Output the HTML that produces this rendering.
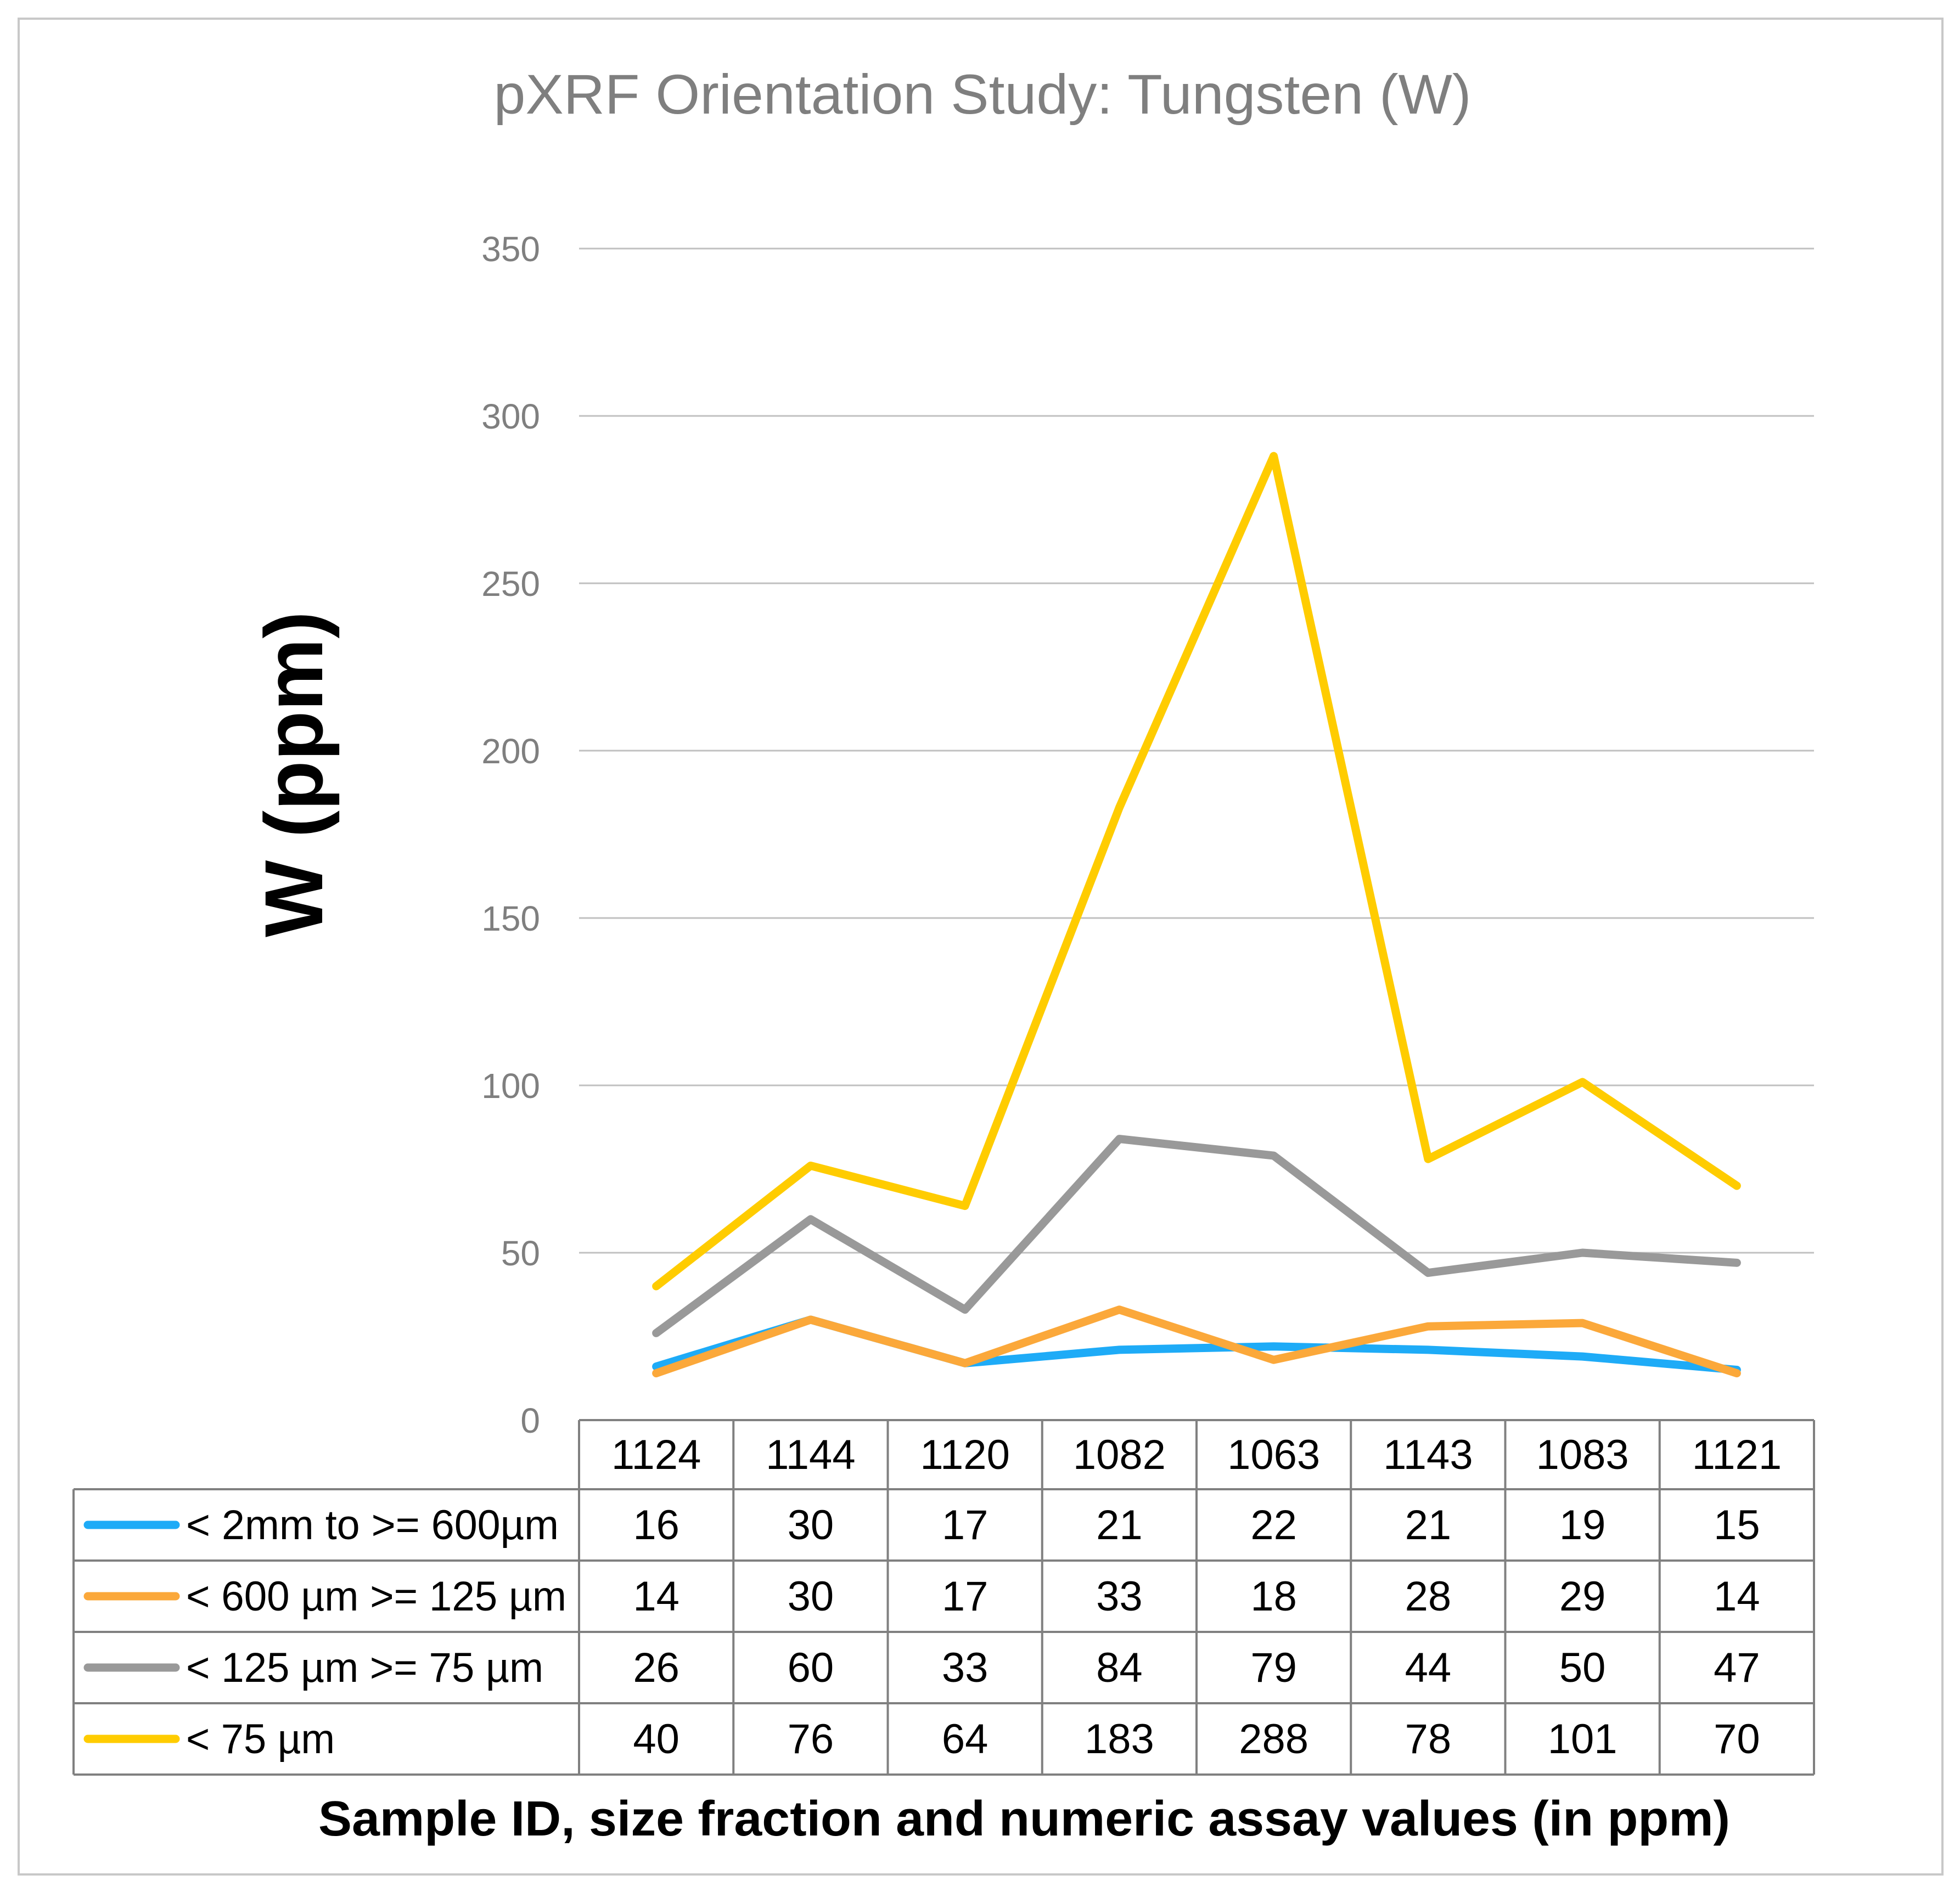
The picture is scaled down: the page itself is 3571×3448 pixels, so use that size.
<!DOCTYPE html>
<html><head><meta charset="utf-8"><style>
html,body{margin:0;padding:0;background:#fff}
svg{display:block}
text{font-family:"Liberation Sans",sans-serif}
</style></head><body>
<svg id="chart" xmlns="http://www.w3.org/2000/svg" width="3571" height="3448" viewBox="0 0 3571 3448">
<rect x="34" y="34" width="3505" height="3382" fill="#fff" stroke="#c8c8c8" stroke-width="4"/>
<text x="1790" y="207" text-anchor="middle" font-size="102" fill="#7f7f7f" textLength="1781" lengthAdjust="spacingAndGlyphs">pXRF Orientation Study: Tungsten (W)</text>
<text transform="translate(587,1411) rotate(-90)" text-anchor="middle" font-size="150" font-weight="bold" fill="#000" textLength="594" lengthAdjust="spacingAndGlyphs">W (ppm)</text>
<text x="1866" y="3345" text-anchor="middle" font-size="90" font-weight="bold" fill="#000" textLength="2572" lengthAdjust="spacingAndGlyphs">Sample ID, size fraction and numeric assay values (in ppm)</text>
<g id="grid"></g><g id="series"></g><g id="table"></g>
</svg>
<script>
const categories = ["1124","1144","1120","1082","1063","1143","1083","1121"];
const seriesNames = ["< 2mm to >= 600µm","< 600 µm >= 125 µm","< 125 µm >= 75 µm","< 75 µm"];
const s1 = [16,30,17,21,22,21,19,15];
const s2 = [14,30,17,33,18,28,29,14];
const s3 = [26,60,33,84,79,44,50,47];
const s4 = [40,76,64,183,288,78,101,70];
const yTicks = [0,50,100,150,200,250,300,350];
const colors = ["#1eabf7","#fba83a","#999999","#ffcc00"];
const seriesData = [s1,s2,s3,s4];
const labelWidths = [679,693,651,271];

const NS="http://www.w3.org/2000/svg";
const X0=1055, X1=3305, Y0=2588, YMAX=350, YTOP=453;
const colW=(X1-X0)/categories.length;
const xPos=i=>X0+colW*(i+0.5);
const yPos=v=>Y0-(v/YMAX)*(Y0-YTOP);
function mk(tag,attrs,parent){const e=document.createElementNS(NS,tag);for(const k in attrs)e.setAttribute(k,attrs[k]);parent.appendChild(e);return e;}
const grid=document.getElementById('grid'),ser=document.getElementById('series'),tbl=document.getElementById('table');

yTicks.forEach(t=>{
  if(t>0){const l=mk('line',{x1:X0,x2:X1,y1:yPos(t),y2:yPos(t),stroke:'#c0c0c0','stroke-width':3},grid);
  
  }
  const tx=mk('text',{x:984,y:yPos(t)+23,'text-anchor':'end','font-size':64,fill:'#7f7f7f'},grid);
  tx.textContent=t;
  
  
});

seriesData.forEach((d,si)=>{
  const pts=d.map((v,i)=>xPos(i)+','+yPos(v)).join(' ');
  const pl=mk('polyline',{points:pts,fill:'none',stroke:colors[si],'stroke-width':15,'stroke-linejoin':'round','stroke-linecap':'round'},ser);
  
  
});

const HT=2588, HB=2714, RH=130, LX=134;
const lineAttr={stroke:'#808080','stroke-width':4};
mk('line',Object.assign({x1:X0,x2:X1,y1:HT,y2:HT},lineAttr),tbl);
for(let r=0;r<=seriesData.length;r++){const y=HB+r*RH;mk('line',Object.assign({x1:LX,x2:X1,y1:y,y2:y},lineAttr),tbl);}
mk('line',Object.assign({x1:LX,x2:LX,y1:HB,y2:HB+RH*seriesData.length},lineAttr),tbl);
for(let c=0;c<=categories.length;c++){const x=X0+c*colW;mk('line',Object.assign({x1:x,x2:x,y1:HT,y2:HB+RH*seriesData.length},lineAttr),tbl);}
categories.forEach((c,i)=>{
  const t=mk('text',{x:xPos(i),y:(HT+HB)/2+26,'text-anchor':'middle','font-size':76,fill:'#000'},tbl);
  t.textContent=c;
  
  
});
seriesData.forEach((d,si)=>{
  const cy=HB+RH*si+RH/2;
  const sw=mk('line',{x1:160,x2:320,y1:cy,y2:cy,stroke:colors[si],'stroke-width':15,'stroke-linecap':'round'},tbl);
  
  
  const lb=mk('text',{x:339,y:cy+26,'font-size':76,fill:'#000',textLength:labelWidths[si],lengthAdjust:'spacingAndGlyphs'},tbl);
  lb.textContent=seriesNames[si];
  
  
  d.forEach((v,i)=>{
    const t=mk('text',{x:xPos(i),y:cy+26,'text-anchor':'middle','font-size':76,fill:'#000'},tbl);
    t.textContent=v;
    
    
  });
});
</script>
</body></html>
